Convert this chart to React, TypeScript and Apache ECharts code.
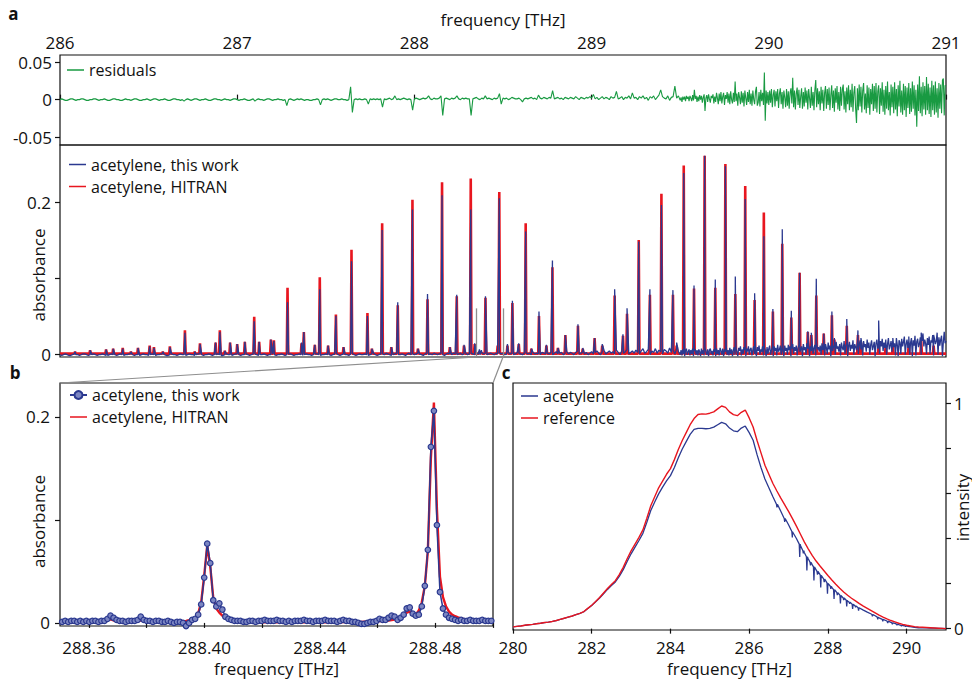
import React, { useEffect, useRef } from 'react';
import * as echarts from 'echarts';

// ---------------- panel a: residuals (1e-3 absorbance) ----------------
// coarse part: 286.00 – 289.49 THz, step 0.01 THz
const residualCoarseStartTHz = 286;
const residualCoarseStepTHz = 0.01;
const residualsCoarseMilli = [
  0, 1, 0, -1, -1, 0, 1, 1, 0, -1, 0, 0, 1, 1, 0, -1, -1, 0, 0, 1, 1, 0, -1, 0, 0,
  1, 0, -1, -1, 0, 1, 1, 0, 0, -1, -1, 0, 1, 0, 0, -1, 0, 1, 1, 0, -1, -1, 0, 0, 1,
  0, -1, 0, 1, 1, 0, -1, 0, 0, 1, 0, -1, -1, 0, 1, 1, 0, 0, -1, 0, -2, 0, 1, 0, -1,
  0, 1, 1, 0, -1, 0, 0, 1, 0, -1, -1, 0, 1, 1, 0, 0, -1, 0, 1, 0, 0, -1, 0, 1, 1,
  0, -1, 0, 0, 1, 0, -1, -1, 0, 1, -2, 0, 1, 0, 0, -1, 0, 1, 1, 0, -1, 0, 0, 1, 0,
  0, -1, 0, -8, 0, 1, 0, -1, 0, 1, 0, 1, 0, -1, 0, 0, -1, -1, 0, 0, 1, 0, -7, 0, 1,
  0, 1, 0, -1, 0, 1, 1, 0, 0, 1, 0, 0, -1, 0, 17, -17, 0, 1, 0, 1, 0, 0, 1, 0, -6,
  1, 0, 1, 0, 1, 0, 1, -10, 1, 0, 1, 2, 0, 1, 5, 0, 1, 0, 1, 2, 1, 0, 1, 0, -14,
  1, 2, 1, 0, 1, 2, 1, 2, 5, 1, 0, 2, 1, 1, 2, 5, -21, 1, 2, 1, 0, 2, 1, 2, 5,
  1, 0, 2, 1, 2, 1, 1, -21, 1, 2, 3, 1, 0, 2, 1, 5, 1, 2, 1, 0, 2, 1, 2, 8, -6,
  2, 1, 2, 0, 1, 3, 2, 1, 1, 2, 0, -3, 1, 2, 1, 2, 3, 1, 2, 0, 6, 2, 1, 3, 2,
  1, 3, 2, 12, 1, 2, 3, 1, 2, 0, 3, 2, 1, 3, 2, 1, 4, 2, 0, 3, 2, 1, 3, 2, 4,
  2, 7, 1, 3, 0, 2, 4, 1, 3, 2, 0, 4, 2, 3, 11, 1, 2, 4, 0, 3, 2, 5, 1, 9, 2,
  3, 0, 4, 2, 5, 1, 3, -1, 4, 2, 5, 0, 3, 6, 13, 4, 2, 1, 5, -1, 3, 4, 18, 2, 5,
];
// fine part: 289.50 – 291.00 THz, step 0.005 THz
const residualFineStartTHz = 289.5;
const residualFineStepTHz = 0.005;
const residualsFineMilli = [
  -1, 3, -3, 4, 0, 4, -2, 5, 1, 4, -2, 5, 2, -2, 6, -1, 13, 1, 5, -3,
  4, -2, 6, 0, 5, -4, 3, 7, -15, 2, 6, -3, 7, 1, -4, 5, 2, 7, -5, 4,
  -3, 9, 2, -6, 8, -2, 10, -5, 4, 9, -7, 6, 1, 10, -4, 8, -6, 11, 0, -5,
  9, -3, 24, -2, 8, -8, 10, 3, -6, 11, -4, 9, -9, 12, 2, -7, 10, -3, 13, -6,
  8, -8, 12, 0, -6, 11, 17, -8, -4, 10, -9, 13, -2, 9, -7, 36, -28, 12, -5, 10,
  -7, 12, -4, 14, -10, 6, 13, -9, 11, -2, 14, -11, 8, 15, -6, 10, -12, 12, 3, -10,
  14, -8, 11, -12, 9, 15, -5, 29, -10, 12, -13, 8, 16, -7, 13, -11, 4, 15, -12, 10,
  -9, 16, -4, 12, -13, 14, 2, -11, 17, -8, 10, -14, 13, 26, -10, 15, -6, 11, -14, 17,
  -5, 13, -15, 9, 18, -12, 14, -7, 16, -14, 6, 19, -11, 12, -16, 15, -4, 18, -13, 10,
  -15, 17, -8, 14, 20, -13, 11, -17, 16, -6, 19, -14, 13, -10, 21, -16, 9, 18, -12, -31,
  15, -14, 20, -9, 17, -17, 12, 22, -13, 8, -18, 19, -11, 16, -20, 14, -6, 21, -15, 18,
  -12, 22, -17, 11, 19, -19, 15, -8, 23, -16, 13, -20, 18, -12, 24, -14, 10, -21, 20, -10,
  17, -18, 23, -13, 14, -22, 19, -9, 25, -17, 12, -20, 21, -14, 18, -23, 16, -11, 22, -19,
  15, -16, 24, -12, 19, -21, 13, -36, 20, -15, 31, -18, 17, -22, 23, -13, 18, -20, 30, -14,
  21, -19, 16, -23, 25, -14, 19, -20, 24, -17, 15, -24, 22, -12, 20, -18, 26, 28, -21, 19,
  18,
];

// ---------------- panel a: absorbance ----------------
// measured baseline of "this work" (1e-3 absorbance)
const thisWorkCoarseStartTHz = 286;
const thisWorkCoarseStepTHz = 0.01;
const thisWorkBaselineCoarseMilli = [
  0, -1, 0, 1, 0, -1, -1, 0, 1, 0, 0, -1, 0, 1, 1, 0, -1, 0, 0, 1, 0, -1, 0, 0, 1,
  0, -1, -1, 0, 1, 0, 0, -1, 0, 1, 0, -1, 0, 0, 1, 1, 0, -1, 0, 0, -1, 0, 1, 0, 0,
  -1, 0, 1, 0, -1, 0, 0, 1, 1, 0, -1, -1, 0, 1, 0, 0, -1, 0, 1, 0, 0, -1, 0, 1, 0,
  0, -1, 0, 1, 1, 0, -1, 0, 0, 1, 0, -1, 0, 0, 1, 0, -1, -1, 0, 1, 0, 0, -1, 0, 1,
  1, 0, -1, 0, 0, 1, 0, -1, 0, 1, 1, 0, -1, 0, 0, 1, 0, -1, 0, 0, 1, 0, -1, 0, 0,
  1, 0, -1, 0, 1, 1, 0, -1, 0, 0, 1, 0, -1, 0, 1, 0, 0, -1, 0, 1, 1, 0, -1, 0, 0,
  1, 0, 0, -1, 0, 1, 2, 0, -1, 0, 1, 0, 0, -1, 1, 2, 0, -1, 0, 1, 0, 0, 1, 0, -1,
  0, 1, 2, 0, -1, 0, 1, 1, 0, 2, 1, 0, -1, 0, 1, 2, 0, 0, 1, 0, -1, 1, 2, 0, 1,
  0, 1, 2, 1, 0, -1, 1, 2, 0, 1, 0, 2, 1, 0, 1, 2, 0, -1, 1, 2, 1, 0, 2, 1, 0,
  1, 2, 0, 1, 2, 0, 1, 2, 1, 0, 2, 1, 0, 3, 1, 2, 0, 1, 2, 1, 0, 2, 1, 3, 1,
  2, 0, 1, 3, 1, 2, 0, 1, 3, 2, 1, 0, 2, 3, 1, 2, 0, 3, 1, 2, 1, 0, 3, 2, 1,
  2, 1, 3, 0, 2, 4, 1, 2, 3, 0, 2, 4, 1, 3, 2, 0, 3, 5, 1, 2, 4, 1, 3, 0, 2,
  4, 1, 3, 5, 2, 0, 4, 6, 1, 3, 5, 2, 4, 1, 6, 3, 0, 5, 2, 4, 7, 1, 3, 5, 2,
  6, 3, 1, 5, 8, 2, 4, 7, 0, 5, 3, 8, 2, 6, 4, 1, 7, 5, 2, 9, 3, 6, 1, 8, 4,
];
const thisWorkFineStartTHz = 289.5;
const thisWorkFineStepTHz = 0.005;
const thisWorkBaselineFineMilli = [
  0, 6, -1, 7, 1, -2, 5, 8, 0, 4, 7, -1, 6, 1, 8, -2, 5, 7, 0, 6,
  -1, 7, 4, -2, 8, 1, 6, -1, 9, 4, 0, 7, -2, 6, 8, 1, 5, -1, 7, 4,
  -2, 8, 1, 6, -1, 9, 5, 0, 8, -2, 7, 4, 10, 0, 6, -1, 9, 1, 7, -2,
  6, 10, 0, 8, 4, -2, 9, 5, 11, -1, 7, 1, 10, 6, -2, 8, 4, 11, 0, 7,
  9, -1, 6, 11, 1, 8, -2, 10, 5, 12, 0, 7, 4, 11, -1, 9, 6, -2, 10, 1,
  8, 12, 0, 6, 10, -2, 11, 5, 9, -1, 13, 4, 7, 12, 0, 10, 6, -2, 12, 5,
  9, 0, 13, 6, 11, -2, 8, 14, 1, 10, 5, 12, -1, 9, 13, 4, 7, 11, -2, 14,
  6, 10, 0, 15, 8, 12, -2, 11, 5, 14, 1, 9, 13, -1, 16, 7, 10, 4, 12, 0,
  15, 6, 11, -1, 14, 9, 1, 16, 7, 12, -2, 15, 5, 10, 13, 0, 17, 8, 11, 4,
  14, -1, 16, 9, 6, 18, 1, 12, 15, -2, 11, 17, 5, 13, 8, 19, 0, 14, 10, 6,
  17, 1, 12, 19, 7, 15, -1, 18, 10, 14, 4, 20, 9, 16, 0, 13, 19, 6, 11, 17,
  -2, 15, 20, 8, 13, 1, 18, 11, 21, 5, 16, 9, 19, 0, 14, 22, 7, 12, 18, 4,
  20, 10, 15, -1, 22, 13, -2, 19, 16, 1, 21, 11, 17, 24, 0, 14, 20, 9, 18, 0,
  16, 22, -2, 19, 12, 25, -1, 17, 21, 10, 14, 23, 0, 18, 28, 11, 20, 15, 1, 22,
  13, 24, 1, 19, 16, 26, -1, 21, 14, 18, 29, 0, 23, 12, 20, 25, -2, 17, 30, 15,
  18,
];

// absorption lines: centre frequency (THz), peak absorbance this work / HITRAN (1e-3)
const peakFreqTHz = [
  286.085, 286.17, 286.26, 286.3, 286.354, 286.4, 286.44, 286.506, 286.53, 286.58, 286.62,
  286.705, 286.76, 286.79, 286.878, 286.902, 286.93, 286.96, 287.0, 287.043, 287.096, 287.124,
  287.19, 287.207, 287.284, 287.363, 287.376, 287.438, 287.466, 287.513, 287.557, 287.6,
  287.645, 287.735, 287.76, 287.818, 287.87, 287.906, 287.989, 288.02, 288.074, 288.156, 288.2,
  288.239, 288.28, 288.318, 288.34, 288.367, 288.378, 288.401, 288.47, 288.479,
  288.525, 288.553, 288.589, 288.628, 288.66, 288.703, 288.745, 288.779, 288.81, 288.852, 288.923,
  288.95, 289.017, 289.06, 289.13, 289.177, 289.2, 289.266, 289.329, 289.394, 289.459, 289.48,
  289.52, 289.578, 289.638, 289.698, 289.755, 289.811, 289.867, 289.92, 289.972, 290.023, 290.076,
  290.127, 290.174, 290.22, 290.24, 290.268, 290.31, 290.356, 290.37, 290.44, 290.503, 290.52, 290.62,
  290.66, 290.7, 290.79, 290.86, 290.93,
];
const peakThisWorkMilli = [
  4, 6, 7, 8, 8, 4, 9, 11, 9, 4, 10,
  29, 4, 14, 16, 30, 5, 16, 14, 17, 44, 17,
  20, 18, 69, 16, 30, 13, 86, 12, 51, 10,
  123, 51, 8, 164, 10, 69, 191, 8, 80, 210, 10,
  79, 13, 191, 15, 7, 6, 77, 15, 206,
  14, 71, 15, 162, 8, 57, 13, 124, 9, 26, 40,
  9, 22, 14, 86, 27, 61, 149, 86, 197, 85, 16,
  239, 91, 262, 99, 248, 103, 205, 81, 156, 60, 165,
  58, 108, 31, 29, 100, 28, 57, 22, 47, 32, 22, 45,
  20, 22, 24, 29, 26,
];
const peakHitranMilli = [
  4, 6, 7, 8, 9, 4, 9, 12, 10, 4, 11,
  32, 4, 15, 16, 32, 5, 16, 14, 17, 50, 17,
  20, 19, 88, 15, 30, 13, 102, 12, 53, 10,
  138, 55, 8, 173, 10, 65, 204, 8, 73, 227, 10,
  77, 12, 232, 14, 4, 3, 75, 12, 214,
  12, 68, 14, 173, 8, 51, 12, 115, 9, 26, 38,
  8, 22, 12, 78, 25, 54, 151, 79, 212, 79, 12,
  249, 87, 262, 88, 251, 80, 222, 72, 187, 57, 146,
  49, 108, 30, 26, 78, 28, 52, 20, 38, 26, 16, 12,
  12, 10, 15, 18, 12,
];
const hitranBaselineMilli = 1.5;
const lineHalfWidthTHz = 0.004;

// ---------------- panel b (grid from 288.3497 THz, step 0.001047 THz), 1e-3 absorbance ----------------
const bStartTHz = 288.3497;
const bStepTHz = 0.001047;
const bThisWorkMilli = [
  2, 1, 2, 1, 2, 2, 1, 2, 1, 2,
  1, 2, 2, 1, 2, 2, 4, 7, 5, 3,
  2, 2, 1, 2, 2, 2, 3, 6, 3, 2,
  2, 1, 2, 2, 1, 1, 2, 1, 0, 1,
  1, 0, -3, 0, 3, 4, 8, 18, 44, 77,
  58, 22, 16, 19, 13, 6, 4, 3, 2, 2,
  2, 1, 1, 2, 2, 1, 2, 2, 3, 2,
  2, 2, 3, 2, 2, 1, 2, 1, 2, 2,
  2, 3, 2, 2, 1, 2, 2, 2, 3, 2,
  2, 2, 1, 2, 3, 2, 2, 1, 1, 0,
  -1, -1, 0, 1, 1, 2, 4, 3, 3, 5,
  7, 6, 3, 5, 8, 14, 15, 9, 7, 8,
  16, 36, 71, 171, 206, 95, 30, 14, 8, 5,
  4, 3, 2, 3, 2, 2, 3, 2, 2, 2,
  3, 2, 2, 2,
];
const bHitranMilli = [
  0.6, 0.6, 0.6, 0.6, 0.6, 0.6, 0.6, 0.6, 0.6, 0.6,
  0.6, 0.7, 0.7, 0.8, 1.2, 2, 3, 3.5, 2.5, 1.5,
  1, 0.8, 0.8, 0.8, 0.9, 1.2, 2, 2.5, 1.8, 1.1,
  0.8, 0.7, 0.7, 0.7, 0.7, 0.7, 0.8, 0.8, 0.9, 1.1,
  1.3, 1.6, 2, 2.6, 3.5, 5, 9, 20, 46, 75,
  55, 24, 14, 10, 7, 5, 3.6, 2.8, 2.2, 1.8,
  1.5, 1.3, 1.1, 1, 0.9, 0.8, 0.8, 0.7, 0.7, 0.7,
  0.7, 0.7, 0.7, 0.7, 0.7, 0.7, 0.7, 0.7, 0.7, 0.7,
  0.7, 0.7, 0.7, 0.7, 0.7, 0.7, 0.7, 0.7, 0.7, 0.7,
  0.7, 0.7, 0.7, 0.7, 0.8, 0.8, 0.8, 0.9, 0.9, 1,
  1, 1.1, 1.2, 1.3, 1.4, 1.5, 1.7, 1.9, 2.1, 2.4,
  2.8, 3.2, 3.8, 4.6, 6, 10, 11, 8, 8, 12,
  20, 36, 70, 160, 214, 110, 45, 25, 16, 11,
  8, 6.5, 5.3, 4.4, 3.7, 3.1, 2.7, 2.4, 2.1, 1.9,
  1.7, 1.5, 1.4, 1.3,
];

// ---------------- panel c (grid from 280 THz, step 0.1 THz) ----------------
const cStartTHz = 280;
const cStepTHz = 0.1;
const cReference = [
  0.008, 0.01, 0.012, 0.015, 0.017, 0.019, 0.022, 0.024, 0.027, 0.029,
  0.032, 0.036, 0.041, 0.046, 0.051, 0.056, 0.062, 0.068, 0.076, 0.09,
  0.104, 0.12, 0.138, 0.158, 0.178, 0.196, 0.213, 0.24, 0.272, 0.31,
  0.345, 0.375, 0.405, 0.438, 0.49, 0.545, 0.585, 0.625, 0.655, 0.685,
  0.71, 0.75, 0.795, 0.835, 0.87, 0.905, 0.932, 0.95, 0.953, 0.952,
  0.956, 0.962, 0.975, 0.988, 0.982, 0.962, 0.95, 0.945, 0.96, 0.97,
  0.935, 0.895, 0.835, 0.78, 0.725, 0.685, 0.645, 0.612, 0.58, 0.55,
  0.52, 0.488, 0.455, 0.42, 0.385, 0.354, 0.325, 0.3, 0.278, 0.257,
  0.236, 0.216, 0.197, 0.179, 0.163, 0.148, 0.135, 0.123, 0.111, 0.1,
  0.09, 0.08, 0.07, 0.06, 0.051, 0.043, 0.036, 0.03, 0.024, 0.019,
  0.015, 0.012, 0.009, 0.007, 0.006, 0.005, 0.004, 0.003, 0.002, 0.001,
  0,
];
const cAcetylene = [
  0.008, 0.01, 0.012, 0.015, 0.017, 0.019, 0.022, 0.024, 0.027, 0.029,
  0.032, 0.036, 0.041, 0.046, 0.051, 0.056, 0.062, 0.068, 0.075, 0.089,
  0.103, 0.119, 0.136, 0.155, 0.174, 0.191, 0.207, 0.232, 0.262, 0.298,
  0.332, 0.362, 0.391, 0.423, 0.472, 0.524, 0.562, 0.598, 0.628, 0.656,
  0.679, 0.715, 0.758, 0.797, 0.83, 0.862, 0.884, 0.889, 0.889, 0.887,
  0.889, 0.894, 0.905, 0.915, 0.909, 0.89, 0.878, 0.874, 0.89, 0.899,
  0.87, 0.836, 0.772, 0.715, 0.664, 0.625, 0.586, 0.553, 0.522, 0.49,
  0.461, 0.43, 0.4, 0.37, 0.338, 0.31, 0.284, 0.261, 0.24, 0.221,
  0.201, 0.183, 0.166, 0.15, 0.136, 0.123, 0.111, 0.101, 0.091, 0.082,
  0.073, 0.065, 0.057, 0.048, 0.041, 0.034, 0.028, 0.023, 0.018, 0.014,
  0.011, 0.008, 0.006, 0.004, 0.003, 0.003, 0.002, 0.002, 0.001, 0.001,
  0,
];
// absorption dips in the transmitted spectrum: [frequency, level beside dip, level at dip]
const cDips = [
  [286.705, 0.552, 0.538], [286.902, 0.489, 0.474], [287.096, 0.431, 0.405],
  [287.284, 0.375, 0.318], [287.376, 0.346, 0.334], [287.466, 0.319, 0.258],
  [287.557, 0.295, 0.281], [287.645, 0.274, 0.214], [287.735, 0.254, 0.24],
  [287.818, 0.237, 0.183], [287.906, 0.22, 0.206], [287.989, 0.203, 0.155],
  [288.074, 0.188, 0.176], [288.156, 0.173, 0.132], [288.239, 0.16, 0.149],
  [288.318, 0.147, 0.112], [288.401, 0.136, 0.127], [288.478, 0.126, 0.098],
  [288.553, 0.117, 0.11], [288.628, 0.108, 0.088], [288.703, 0.101, 0.095],
  [288.779, 0.093, 0.08], [289.13, 0.063, 0.055], [289.266, 0.051, 0.041],
  [289.394, 0.041, 0.032], [289.52, 0.033, 0.025], [289.638, 0.026, 0.019],
  [289.755, 0.02, 0.015], [289.867, 0.015, 0.011], [289.972, 0.012, 0.009],
  [290.076, 0.009, 0.007],
];
const dipHalfWidthTHz = 0.012;

// ---------------- axes ----------------
const aFreqTicks = [286, 287, 288, 289, 290, 291];
const residualTicks = [-0.05, 0, 0.05];
const absorbanceTicks = [0, 0.1, 0.2];
const absorbanceLabels = [0, 0.2];
const bFreqLabels = [288.36, 288.4, 288.44, 288.48];
const bFreqTicks = [288.36, 288.38, 288.4, 288.42, 288.44, 288.46, 288.48, 288.5];
const cFreqTicks = [280, 282, 284, 286, 288, 290];
const cIntensityTicks = [0, 0.2, 0.4, 0.6, 0.8, 1];
const cIntensityLabels = [0, 1];
const zoomWindowTHz = [288.35, 288.5];
const zoomMarkerTop = 0.061;

const aRange = [-0.003, 0.276];
const bRange = [-0.003, 0.233];
const cRange = [-0.006, 1.09];
const residualRange = [-0.0605, 0.0595];

const BLUE = '#2b3990';
const RED = '#e8161f';
const GREEN = '#199a42';
const GRAY = '#8e8e8e';
const INK = '#111111';
const FONT = "'Open Sans', 'DejaVu Sans', sans-serif";
// plain line legend glyph (17 x 10 box, bar in the middle)
const LINE_ICON =
  'path://M0,0 L0.01,0 L0.01,0.01 Z M0,4.3 L17,4.3 L17,5.7 L0,5.7 Z M0,10 L0.01,10 L0.01,9.99 Z';

const toGrid = (start: number, step: number, vals: number[], scale: number) =>
  vals.map((v, i) => [Number((start + i * step).toFixed(6)), v * scale]);

function buildOption() {
  const residualData = [
    ...toGrid(residualCoarseStartTHz, residualCoarseStepTHz, residualsCoarseMilli, 1e-3),
    ...toGrid(residualFineStartTHz, residualFineStepTHz, residualsFineMilli, 1e-3),
  ];
  const thisWorkA = [
    ...toGrid(thisWorkCoarseStartTHz, thisWorkCoarseStepTHz, thisWorkBaselineCoarseMilli, 1e-3),
    ...toGrid(thisWorkFineStartTHz, thisWorkFineStepTHz, thisWorkBaselineFineMilli, 1e-3),
    ...peakFreqTHz.map((f, i) => [f, peakThisWorkMilli[i] * 1e-3]),
  ].sort((p, q) => p[0] - q[0]);
  const hb = hitranBaselineMilli * 1e-3;
  const hitranA = [
    [286, hb],
    ...peakFreqTHz.flatMap((f, i) => [
      [f - lineHalfWidthTHz, hb],
      [f, peakHitranMilli[i] * 1e-3],
      [f + lineHalfWidthTHz, hb],
    ]),
    [291, hb],
  ].sort((p, q) => p[0] - q[0]);
  const thisWorkB = toGrid(bStartTHz, bStepTHz, bThisWorkMilli, 1e-3);
  const hitranB = toGrid(bStartTHz, bStepTHz, bHitranMilli, 1e-3);
  const refC = toGrid(cStartTHz, cStepTHz, cReference, 1);
  const acC = [
    ...toGrid(cStartTHz, cStepTHz, cAcetylene, 1),
    ...cDips.flatMap(([f, base, dip]) => [
      [f - dipHalfWidthTHz, base],
      [f, dip],
      [f + dipHalfWidthTHz, base],
    ]),
  ].sort((p, q) => p[0] - q[0]);

  const labelStyle = { fontSize: 17, color: INK, fontFamily: FONT };
  const tickLine = { color: INK, width: 1.2 };
  const nameStyle = { fontSize: 17, color: INK, fontFamily: FONT };
  const gridBox = { show: true, borderColor: INK, borderWidth: 1.2, backgroundColor: 'transparent' };
  const legendBase = {
    orient: 'vertical',
    itemWidth: 17,
    itemHeight: 10,
    itemGap: 5,
    padding: 0,
    selectedMode: false,
    textStyle: { fontSize: 16, color: INK, fontFamily: FONT, lineHeight: 17 },
  };
  const fmtNum = (v: number) => (Math.abs(v) < 1e-12 ? '0' : String(Number(v.toFixed(3))));

  return {
    animation: false,
    textStyle: { fontFamily: FONT },
    grid: [
      { left: 60, top: 55, width: 886, height: 90, ...gridBox },
      { left: 60, top: 145, width: 886, height: 212, ...gridBox },
      { left: 60, top: 383, width: 433, height: 243, ...gridBox },
      { left: 513, top: 383, width: 433, height: 247, ...gridBox },
    ],
    xAxis: [
      {
        gridIndex: 0, type: 'value', position: 'top', min: 286, max: 291,
        axisLine: { show: false },
        axisTick: { show: true, length: 5, customValues: aFreqTicks, lineStyle: tickLine },
        axisLabel: { customValues: aFreqTicks, margin: 4, ...labelStyle },
        splitLine: { show: false },
        name: 'frequency [THz]', nameLocation: 'middle', nameGap: 27, nameTextStyle: nameStyle,
      },
      {
        gridIndex: 1, type: 'value', min: 286, max: 291,
        axisLine: { show: false }, axisTick: { show: false }, axisLabel: { show: false },
        splitLine: { show: false },
      },
      {
        gridIndex: 2, type: 'value', min: zoomWindowTHz[0], max: zoomWindowTHz[1],
        axisLine: { show: false },
        axisTick: { show: true, length: 5, customValues: bFreqTicks, lineStyle: tickLine },
        axisLabel: { customValues: bFreqLabels, margin: 13, formatter: (v: number) => v.toFixed(2), ...labelStyle },
        splitLine: { show: false },
        name: 'frequency [THz]', nameLocation: 'middle', nameGap: 34, nameTextStyle: nameStyle,
      },
      {
        gridIndex: 3, type: 'value', min: 280, max: 291,
        axisLine: { show: false },
        axisTick: { show: true, length: 5, customValues: cFreqTicks, lineStyle: tickLine },
        axisLabel: { customValues: cFreqTicks, margin: 9, ...labelStyle },
        splitLine: { show: false },
        name: 'frequency [THz]', nameLocation: 'middle', nameGap: 30, nameTextStyle: nameStyle,
      },
    ],
    yAxis: [
      {
        gridIndex: 0, type: 'value', min: residualRange[0], max: residualRange[1],
        axisLine: { show: false },
        axisTick: { show: true, length: 5, customValues: residualTicks, lineStyle: tickLine },
        axisLabel: { customValues: residualTicks, margin: 8, formatter: fmtNum, ...labelStyle },
        splitLine: { show: false },
      },
      {
        gridIndex: 1, type: 'value', min: aRange[0], max: aRange[1],
        axisLine: { show: false },
        axisTick: { show: true, length: 5, customValues: absorbanceTicks, lineStyle: tickLine },
        axisLabel: { customValues: absorbanceLabels, margin: 9, formatter: fmtNum, ...labelStyle },
        splitLine: { show: false },
      },
      {
        gridIndex: 2, type: 'value', min: bRange[0], max: bRange[1],
        axisLine: { show: false },
        axisTick: { show: true, length: 5, customValues: absorbanceTicks, lineStyle: tickLine },
        axisLabel: { customValues: absorbanceLabels, margin: 10, formatter: fmtNum, ...labelStyle },
        splitLine: { show: false },
      },
      {
        gridIndex: 3, type: 'value', position: 'right', min: cRange[0], max: cRange[1],
        axisLine: { show: false },
        axisTick: { show: true, length: 5, customValues: cIntensityTicks, lineStyle: tickLine },
        axisLabel: { customValues: cIntensityLabels, margin: 8, formatter: fmtNum, ...labelStyle },
        splitLine: { show: false },
      },
    ],
    legend: [
      { ...legendBase, icon: LINE_ICON, data: ['residuals'], left: 67, top: 61.5 },
      { ...legendBase, icon: LINE_ICON, data: ['acetylene, this work', 'acetylene, HITRAN'], left: 69, top: 156 },
      {
        ...legendBase,
        data: ['acetylene, this work (b)', { name: 'acetylene, HITRAN (b)', icon: LINE_ICON }],
        left: 69, top: 386.5,
        formatter: (n: string) => n.replace(' (b)', ''),
      },
      { ...legendBase, icon: LINE_ICON, data: ['acetylene', 'reference'], left: 521, top: 387.5 },
    ],
    series: [
      {
        name: 'residuals', type: 'line', xAxisIndex: 0, yAxisIndex: 0, data: residualData,
        symbol: 'none', color: GREEN, lineStyle: { width: 1.1, color: GREEN },
      },
      {
        name: 'acetylene, HITRAN', type: 'line', xAxisIndex: 1, yAxisIndex: 1, data: hitranA,
        symbol: 'none', color: RED, lineStyle: { width: 2.6, color: RED },
        markLine: {
          silent: true, symbol: ['none', 'none'], label: { show: false },
          lineStyle: { color: GRAY, width: 1.3, type: 'solid' },
          data: zoomWindowTHz.map((f) => [{ coord: [f, zoomMarkerTop] }, { coord: [f, aRange[0]] }]),
        },
      },
      {
        name: 'acetylene, this work', type: 'line', xAxisIndex: 1, yAxisIndex: 1, data: thisWorkA,
        symbol: 'none', color: BLUE, lineStyle: { width: 1.3, color: BLUE },
      },
      {
        name: 'acetylene, HITRAN (b)', type: 'line', xAxisIndex: 2, yAxisIndex: 2, data: hitranB,
        symbol: 'none', color: RED, lineStyle: { width: 2.4, color: RED },
      },
      {
        name: 'acetylene, this work (b)', type: 'line', xAxisIndex: 2, yAxisIndex: 2, data: thisWorkB,
        symbol: 'circle', symbolSize: 5.5, color: BLUE,
        itemStyle: { color: '#7c86c2', borderColor: BLUE, borderWidth: 1.2 },
        lineStyle: { width: 1.5, color: BLUE },
      },
      {
        name: 'acetylene', type: 'line', xAxisIndex: 3, yAxisIndex: 3, data: acC,
        symbol: 'none', color: BLUE, lineStyle: { width: 1.3, color: BLUE },
      },
      {
        name: 'reference', type: 'line', xAxisIndex: 3, yAxisIndex: 3, data: refC,
        symbol: 'none', color: RED, lineStyle: { width: 1.4, color: RED },
      },
    ],
  };
}

export default function App() {
  const ref = useRef<HTMLDivElement>(null);
  useEffect(() => {
    const el = ref.current;
    if (!el) return;
    const chart = echarts.init(el, null, { renderer: 'svg' });
    chart.setOption(buildOption() as any);
    const px = (gridIndex: number, v: number[]) => chart.convertToPixel({ gridIndex } as any, v) as number[];
    const l0 = px(1, [zoomWindowTHz[0], aRange[0]]);
    const l1 = px(2, [zoomWindowTHz[0], bRange[1]]);
    const r0 = px(1, [zoomWindowTHz[1], aRange[0]]);
    const r1 = px(2, [zoomWindowTHz[1], bRange[1]]);
    const txt = (id: string, text: string, x: number, y: number, opts: any = {}) => ({
      type: 'text', id, x, y, rotation: opts.rotation || 0, silent: true,
      style: {
        text, fill: INK, fontSize: 17, fontFamily: FONT, fontWeight: opts.bold ? 'bold' : 'normal',
        align: 'center', verticalAlign: 'middle',
      },
    });
    chart.setOption({
      graphic: [
        { type: 'line', id: 'connL', silent: true, shape: { x1: l0[0], y1: l0[1], x2: l1[0], y2: l1[1] }, style: { stroke: GRAY, lineWidth: 1.2 } },
        { type: 'line', id: 'connR', silent: true, shape: { x1: r0[0], y1: r0[1], x2: r1[0], y2: r1[1] }, style: { stroke: GRAY, lineWidth: 1.2 } },
        txt('pa', 'a', 13.5, 13.5, { bold: true }),
        txt('pb', 'b', 15, 372, { bold: true }),
        txt('pc', 'c', 506, 372.5, { bold: true }),
        txt('ya', 'absorbance', 38.5, 275, { rotation: Math.PI / 2 }),
        txt('yb', 'absorbance', 38, 521.5, { rotation: Math.PI / 2 }),
        txt('yc', 'intensity', 962, 507.5, { rotation: Math.PI / 2 }),
      ],
    } as any);
    return () => chart.dispose();
  }, []);
  return <div ref={ref} style={{ position: 'absolute', left: 0, top: 0, width: 972, height: 686 }} />;
}
